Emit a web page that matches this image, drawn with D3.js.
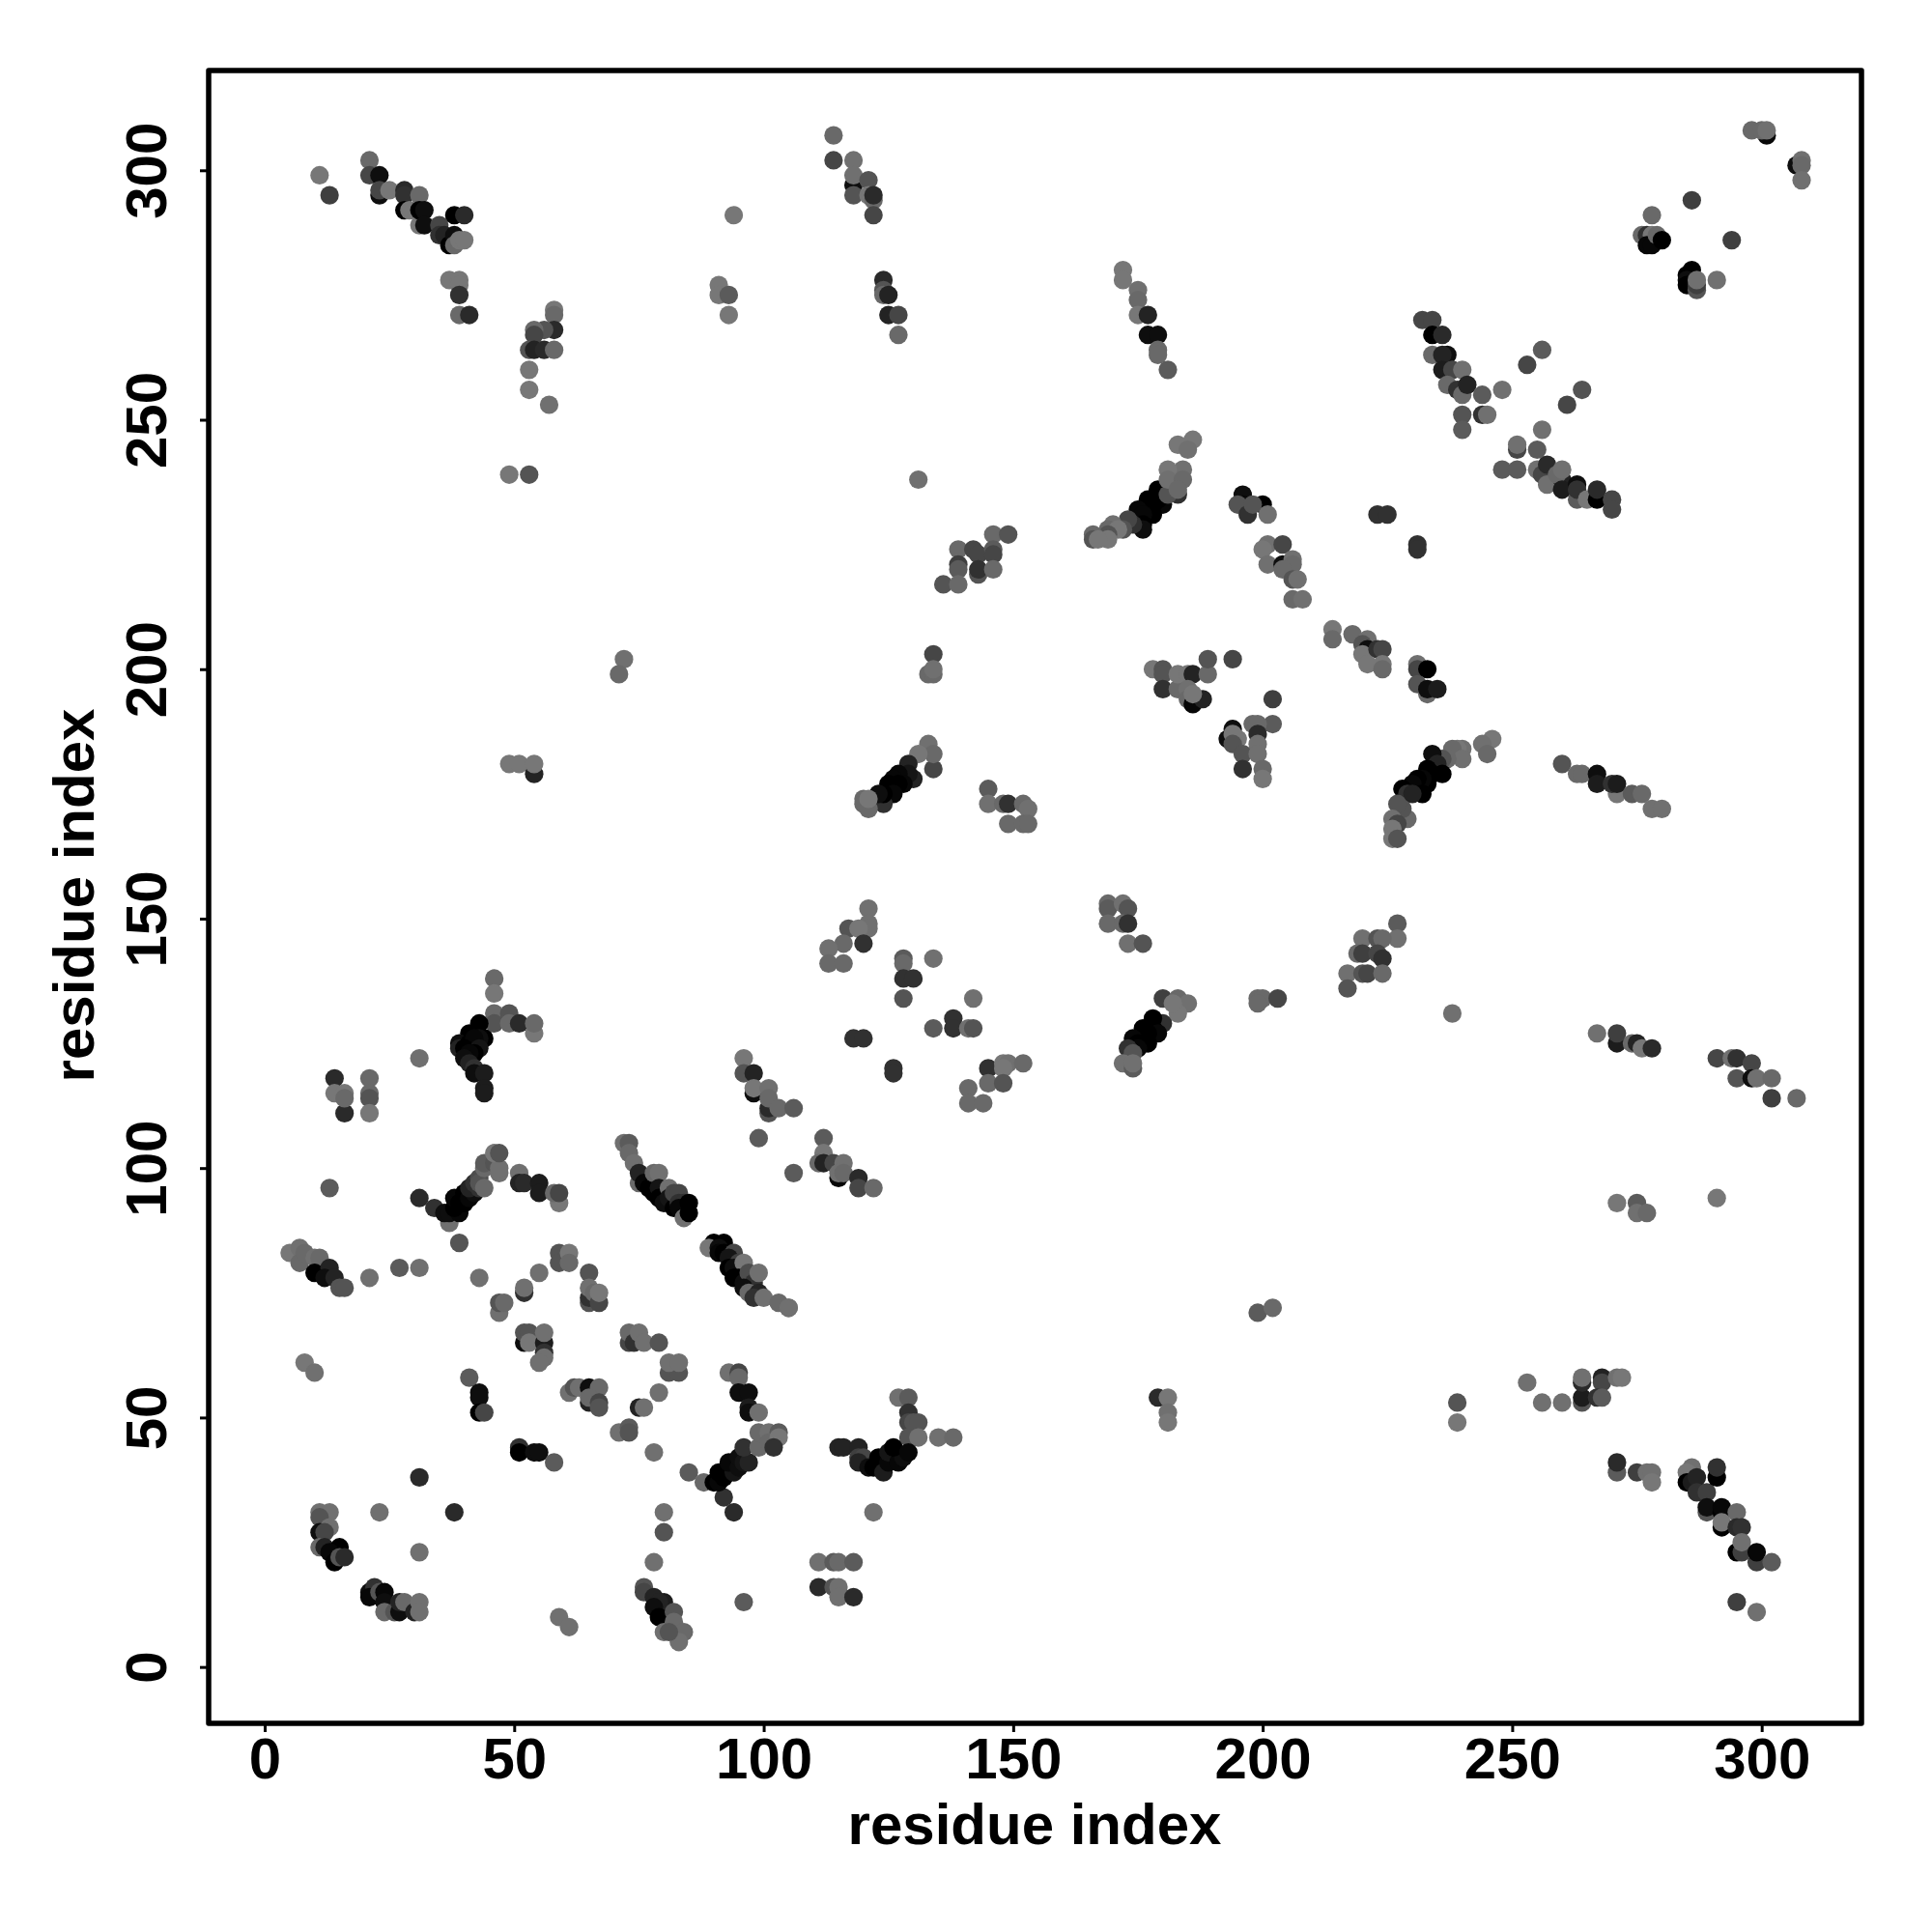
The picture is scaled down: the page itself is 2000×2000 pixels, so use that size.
<!DOCTYPE html>
<html><head><meta charset="utf-8">
<script src="https://cdnjs.cloudflare.com/ajax/libs/d3/7.8.5/d3.min.js"></script>
<style>html,body{margin:0;padding:0;background:#fff}svg{display:block}</style>
</head><body><div id="chart"></div>
<script>
// each entry: [residue i, residue j, contact level]; level 0 = weakest (grey), 17 = strongest (black)
const topLeft = [[11,299,0],[13,295,8],[21,302,2],[21,299,7],[23,299,15],[23,295,15],[23,296,7],[25,296,0],[28,296,11],[28,295,10],[28,292,17],[29,292,0],[31,295,2],[31,289,0],[31,292,17],[32,292,15],[32,289,15],[35,289,7],[35,287,10],[36,287,12],[37,285,17],[38,287,15],[38,291,17],[40,291,11],[38,285,2],[39,286,0],[40,286,0],[37,278,0],[39,278,0],[39,277,0],[39,275,10],[39,271,2],[41,271,11]];
const topStrandA = [[58,272,0],[58,271,2],[58,268,11],[56,268,5],[54,268,2],[54,267,7],[53,264,5],[54,264,12],[56,264,11],[58,264,2],[53,260,0],[53,256,0],[57,253,1],[49,239,0],[53,239,5],[94,291,0],[91,277,0],[91,275,0],[93,275,4],[93,271,0],[72,202,1],[71,199,2],[49,181,0],[51,181,0],[54,179,12],[54,181,0]];
const midLeft = [[46,138,2],[46,135,0],[46,131,2],[46,129,5],[49,131,5],[49,129,2],[51,129,11],[54,127,0],[54,129,2],[43,129,17],[44,126,17],[41,127,17],[43,126,15],[39,125,15],[39,124,12],[41,125,17],[42,126,16],[40,124,17],[43,124,14],[42,123,17],[41,123,16],[40,122,15],[41,121,12],[42,120,10],[42,119,15],[44,119,13],[44,116,13],[44,115,13],[31,122,1],[14,118,11],[14,115,0],[16,111,11],[16,115,0],[16,114,2],[21,118,2],[21,115,2],[21,114,5],[21,111,0]];
const midStrandB = [[96,122,0],[96,119,5],[98,115,15],[98,119,12],[98,116,0],[101,116,1],[101,111,5],[101,112,11],[101,114,2],[103,112,2],[106,112,4],[99,106,4],[134,203,7],[133,199,2],[134,199,2],[134,200,1],[133,185,1],[134,180,7],[134,183,2],[131,183,0],[129,181,12],[130,178,12],[129,179,14],[127,179,16],[128,177,16],[126,178,16],[127,177,17],[125,177,17],[125,175,17],[126,175,16],[124,173,10],[124,175,17],[123,175,15],[120,174,2],[120,173,2],[121,172,2],[121,174,0]];
const midCluster = [[145,176,4],[145,173,1],[148,173,2],[149,173,10],[149,169,2],[152,173,2],[153,172,1],[152,169,2],[153,169,2],[178,200,0],[180,200,5],[180,199,5],[180,196,10],[183,196,2],[183,199,0],[185,199,0],[186,199,12],[189,199,2],[189,202,5],[194,202,7],[185,196,1],[185,194,2],[186,193,16],[188,194,12],[186,195,0],[202,194,8],[202,189,4],[198,189,2],[199,189,2],[194,188,15],[193,186,15],[199,187,11],[195,186,0],[194,187,0],[194,185,5],[199,185,1],[196,183,5],[199,183,1],[196,180,10],[200,180,2],[200,178,0]];
const lowerMid = [[121,152,1],[121,149,1],[117,148,5],[121,148,1],[119,148,0],[120,145,10],[116,145,2],[113,144,1],[113,141,2],[116,141,2],[128,142,4],[128,141,2],[128,138,10],[130,138,10],[128,134,5],[134,142,1],[142,134,1],[138,130,10],[138,128,10],[134,128,4],[141,128,1],[142,128,5],[118,126,10],[120,126,10],[126,120,10],[126,119,10],[145,120,10],[148,121,0],[149,121,1],[152,121,2],[148,120,0],[145,117,2],[148,117,5],[141,116,2],[141,113,2],[144,113,2],[112,106,4],[112,103,0],[111,101,2],[112,101,12],[114,101,7],[116,101,1],[115,98,16],[115,99,1],[116,99,2],[119,98,11],[119,96,7],[122,96,2],[106,99,4]];
const centreArc = [[180,134,8],[183,134,2],[185,133,1],[183,131,0],[182,133,0],[180,129,10],[178,130,17],[178,128,17],[179,127,16],[176,128,17],[177,127,17],[177,125,17],[176,126,17],[174,126,16],[175,125,17],[175,124,16],[173,124,10],[174,123,5],[172,121,1],[174,120,4],[174,121,1],[199,134,2],[200,134,2],[199,133,2],[203,134,7],[169,153,2],[169,152,4],[169,149,2],[172,153,1],[173,152,5],[172,149,2],[173,149,10],[173,145,1],[176,145,5]];
const topMid = [[114,307,2],[114,302,7],[118,302,1],[118,297,15],[118,299,1],[118,295,5],[121,298,5],[121,295,0],[122,294,2],[122,295,11],[122,291,7],[124,278,11],[124,276,5],[124,275,2],[125,275,12],[125,271,12],[127,271,7],[127,267,2],[131,238,1],[172,280,0],[172,278,0],[175,276,1],[175,274,2],[175,271,0],[177,271,12],[177,267,15],[179,267,15],[179,264,2],[179,263,2],[181,260,4]];
const upperArc = [[186,246,0],[183,245,0],[185,244,1],[184,240,1],[181,240,0],[180,236,10],[179,236,17],[183,235,10],[180,233,16],[179,234,17],[178,233,17],[177,234,17],[178,231,17],[177,232,17],[175,232,16],[176,231,16],[176,229,17],[176,228,15],[174,229,10],[173,230,7],[172,228,5],[170,229,1],[169,228,2],[171,228,0],[169,227,5],[166,227,2],[166,226,5],[169,226,0],[167,226,0],[181,235,5],[181,238,1],[184,238,2],[183,236,2]];
const upperCluster = [[146,227,2],[149,227,5],[139,224,2],[142,224,7],[143,223,7],[146,224,4],[146,223,7],[139,221,8],[139,220,4],[143,219,5],[143,220,10],[146,220,2],[136,217,5],[139,217,2],[196,235,15],[196,233,16],[195,233,5],[197,231,10],[200,233,17],[198,233,5],[201,231,1],[201,225,1],[204,225,7],[200,224,0],[201,221,1],[204,221,15],[206,222,1],[206,221,2],[204,220,2],[206,218,5],[207,218,1],[206,214,2],[208,214,1]];
const upperRight = [[214,208,0],[214,206,2],[218,207,2],[221,206,1],[220,205,5],[221,204,15],[220,203,0],[223,204,10],[224,204,7],[221,201,0],[224,201,0],[224,200,2],[231,201,1],[231,200,7],[233,200,17],[231,197,5],[233,195,2],[233,196,15],[235,196,13],[298,308,2],[301,307,16],[300,308,2],[301,308,1],[307,301,15],[308,302,1],[308,301,2],[308,298,1],[286,294,8],[278,291,2],[294,286,8],[276,287,2],[277,287,10],[278,287,0],[277,285,16],[278,285,16],[279,287,2],[280,286,17],[286,280,17],[285,279,17],[285,278,15],[285,277,17],[287,276,5],[287,277,8],[287,278,1],[291,278,1]];
const crossArms = [[232,270,7],[234,270,7],[234,267,17],[236,267,11],[234,263,2],[237,263,15],[236,263,12],[236,260,13],[238,260,7],[240,260,1],[237,257,2],[239,256,10],[240,255,2],[241,257,12],[244,255,4],[248,256,1],[240,251,5],[240,248,4],[244,251,10],[245,251,1],[253,261,7],[256,264,4],[264,256,5],[261,253,7],[256,248,1],[251,244,7],[251,245,1],[255,244,4],[248,240,4],[251,240,4],[255,240,1],[256,239,7],[257,241,11],[257,237,1],[260,238,12],[259,239,2],[260,240,1],[260,236,13],[263,234,4],[263,237,15],[263,236,10],[265,234,0],[267,234,17],[267,236,11],[270,234,7],[270,232,7],[223,231,10],[225,231,10],[231,225,10],[231,224,10]];
const rightArc = [[246,186,0],[244,185,1],[245,183,2],[240,184,1],[239,184,0],[238,184,2],[240,182,1],[237,182,2],[236,182,5],[234,183,15],[235,181,12],[236,179,17],[234,179,17],[233,180,17],[233,177,17],[232,178,16],[231,178,17],[230,177,16],[232,175,17],[228,176,17],[229,175,10],[230,175,12],[229,170,2],[228,172,5],[227,173,5],[226,170,1],[227,169,7],[226,168,0],[226,166,0],[227,166,5]];
const rightStrand = [[260,181,5],[263,179,2],[264,179,2],[267,179,15],[267,177,13],[271,175,0],[270,177,10],[271,177,13],[274,175,4],[276,175,2],[278,172,1],[280,172,1],[227,149,4],[227,146,1],[220,146,1],[223,146,5],[224,146,2],[219,143,2],[220,143,8],[223,143,7],[224,142,10],[217,139,1],[220,139,5],[221,139,7],[224,139,2],[217,136,5],[238,131,1],[267,127,1],[271,125,13],[271,127,8],[274,125,2],[275,125,12],[276,124,0],[278,124,11],[291,122,7],[294,122,1],[295,122,10],[298,121,7],[295,118,5],[298,118,15],[299,118,1],[302,118,2],[302,114,8],[307,114,2]];
const lowerRight = [[271,93,0],[275,93,4],[275,91,1],[277,91,2],[291,94,0],[239,53,5],[239,49,0],[253,57,1],[256,53,1],[260,53,1],[264,53,5],[264,54,13],[264,57,11],[264,58,1],[268,58,12],[268,57,7],[267,54,10],[268,54,4],[271,58,1],[272,58,0],[271,39,4],[271,41,11],[275,39,8],[277,39,1],[278,39,1],[278,37,0],[286,40,1],[285,39,0],[285,37,17],[286,37,13],[287,38,12],[287,35,10],[289,35,8],[291,38,17],[291,40,10],[289,31,5],[289,32,15],[292,31,17],[292,32,16],[295,31,2],[292,28,17],[292,29,0],[295,28,11],[296,28,10],[295,23,17],[296,23,8],[296,25,1],[299,21,8],[299,23,16],[302,21,4],[295,13,8],[299,11,1]];
const helixA = [[13,96,4],[31,94,11],[34,92,10],[37,89,1],[36,91,15],[37,91,15],[39,91,16],[38,92,17],[38,94,16],[39,93,17],[40,93,17],[40,95,17],[41,94,16],[42,95,15],[41,96,12],[42,97,10],[43,96,10],[43,98,6],[43,97,5],[44,96,2],[44,100,2],[44,101,4],[46,101,5],[47,99,1],[47,100,1],[46,103,0],[47,103,5],[51,99,1],[51,97,12],[52,97,11],[55,97,13],[55,95,13],[59,93,0],[58,95,2],[59,95,7],[72,105,1],[73,105,4],[73,103,2],[74,101,1],[75,97,2],[75,99,12],[76,97,16],[77,96,17],[78,95,17],[78,99,2],[79,99,1],[79,96,14],[79,94,17],[80,93,15],[81,96,1],[81,94,14],[82,92,17],[82,95,7],[83,95,7],[83,93,10],[84,93,10],[83,92,16],[84,90,1],[85,91,17],[85,93,17],[39,85,5]];
const helixB = [[5,83,0],[7,84,1],[7,81,2],[8,83,2],[10,82,1],[11,82,2],[10,79,17],[13,80,12],[12,78,15],[14,78,12],[15,76,5],[16,76,5],[21,78,1],[27,80,4],[31,80,1],[43,78,1],[47,71,1],[47,73,5],[48,73,2],[52,75,10],[52,76,1],[55,79,1],[59,83,5],[59,81,5],[61,83,0],[61,81,2],[65,79,5],[65,73,5],[65,74,10],[65,76,1],[66,75,2],[67,73,7],[67,75,0]];
const lowerCentre = [[52,65,15],[52,67,5],[53,67,5],[53,65,0],[56,65,13],[56,67,1],[56,63,10],[56,62,1],[55,61,1],[73,65,7],[73,67,2],[74,65,10],[75,67,1],[76,65,1],[79,65,5],[81,59,5],[83,59,5],[81,61,1],[83,61,1],[8,61,0],[10,59,1],[41,58,4],[43,55,15],[43,54,15],[43,51,17],[44,51,7],[61,55,1],[62,56,5],[63,56,1],[65,56,15],[67,56,2],[65,53,12],[65,54,2],[67,53,7],[67,52,5],[79,55,1],[75,52,12],[76,52,1],[71,47,1],[73,48,4],[73,47,5],[78,43,1]];
const lowerHelix = [[93,59,1],[95,59,7],[95,58,2],[95,55,15],[97,55,15],[97,52,13],[97,51,15],[99,51,1],[51,44,10],[51,43,17],[54,43,15],[55,43,15],[58,41,4],[85,39,4],[31,38,11],[38,31,11],[23,31,1],[88,37,2],[90,37,17],[92,34,10],[94,31,11],[91,37,16],[92,38,17],[91,39,17],[93,39,17],[94,39,14],[94,41,17],[93,41,16],[95,40,15],[95,42,15],[96,41,14],[97,41,12],[96,44,10],[99,44,2],[99,47,2],[101,47,1],[103,47,4],[101,45,2],[103,46,0],[102,44,10],[80,31,1],[80,27,5],[78,21,1],[96,13,4]];
const bottomLeft = [[76,16,5],[76,15,7],[78,14,12],[80,13,13],[79,13,12],[78,12,15],[79,10,17],[82,11,5],[80,7,1],[82,9,2],[84,7,2],[83,5,1],[81,7,5],[59,10,1],[61,8,1],[11,31,1],[13,31,1],[11,30,5],[13,28,1],[11,27,15],[12,27,7],[11,24,2],[12,24,12],[15,24,17],[13,23,16],[14,21,17],[15,22,5],[16,22,11],[31,23,1],[21,15,15],[22,16,10],[21,14,16],[23,15,5],[24,15,16],[24,13,15],[24,11,2],[26,11,5],[27,11,15],[27,13,12],[28,13,2],[30,11,12],[31,13,1],[31,11,1]];
const bottomRight = [[199,71,4],[202,72,2],[179,54,11],[181,54,0],[181,51,1],[181,49,0],[122,31,1],[127,54,1],[129,54,4],[129,51,10],[129,49,7],[130,49,5],[131,49,5],[129,46,5],[131,46,1],[135,46,1],[138,46,2],[115,44,12],[116,44,12],[119,44,12],[119,42,8],[120,42,7],[119,41,12],[121,40,15],[123,42,17],[122,40,17],[124,41,17],[124,39,13],[125,41,16],[125,43,14],[127,41,16],[128,42,15],[126,44,17],[129,43,16],[111,21,1],[114,21,4],[115,21,2],[118,21,4],[111,16,11],[114,16,5],[115,16,1],[115,14,1],[118,14,11]];
const helixC = [[90,85,17],[92,85,17],[89,84,0],[91,84,15],[91,83,16],[92,83,17],[94,83,7],[93,82,14],[95,81,8],[93,80,17],[95,80,14],[94,80,15],[94,78,17],[96,81,0],[95,78,17],[96,77,15],[97,79,6],[98,77,10],[99,79,1],[96,76,15],[97,75,2],[99,75,12],[98,74,10],[100,74,1],[103,73,2],[105,72,2],[105,72,1]];
const axisTicks = [0,50,100,150,200,250,300];
const xTitle = "residue index", yTitle = "residue index";

const contacts = [].concat(topLeft,topStrandA,midLeft,midStrandB,midCluster,lowerMid,centreArc,topMid,upperArc,upperCluster,upperRight,crossArms,rightArc,rightStrand,lowerRight,helixA,helixB,lowerCentre,lowerHelix,bottomLeft,bottomRight,helixC);

const L=216, R=1927, T=73, B=1784;
const x = d3.scaleLinear().domain([-11.23,320]).range([L,R]);
const y = d3.scaleLinear().domain([-11.3,320]).range([B,T]);
const grey = d3.scaleLinear().domain([0,17]).range(["#777777","#000000"]);
const svg = d3.select("#chart").append("svg").attr("width",2000).attr("height",2000).style("background","#fff");
const font = "'Liberation Sans',Arial,sans-serif";

svg.append("g").selectAll("circle").data(contacts).join("circle")
  .attr("cx",d=>x(d[0])).attr("cy",d=>y(d[1])).attr("r",9.6).attr("fill",d=>grey(d[2]));

svg.append("rect").attr("x",L).attr("y",T).attr("width",R-L).attr("height",B-T)
  .attr("fill","none").attr("stroke","#000").attr("stroke-width",5.5).attr("stroke-linejoin","round");

const gx = svg.append("g").attr("transform",`translate(0,${B})`)
  .call(d3.axisBottom(x).tickValues(axisTicks).tickSize(9).tickSizeOuter(0));
const gy = svg.append("g").attr("transform",`translate(${L},0)`)
  .call(d3.axisLeft(y).tickValues(axisTicks).tickSize(9).tickSizeOuter(0));
[gx,gy].forEach(g=>{
  g.select(".domain").remove();
  g.selectAll("line").attr("stroke","#000").attr("stroke-width",3);
  g.selectAll("text").attr("font-family",font).attr("font-weight","700").attr("font-size",60).attr("fill","#000");
});
gx.selectAll("text").attr("dy",null).attr("y",null).attr("text-anchor","middle")
  .attr("transform","translate(0,57)");
gy.selectAll("text").attr("x",null).attr("dy",null).attr("text-anchor","middle")
  .attr("transform",`translate(${172-L},0) rotate(-90)`);

svg.append("text").attr("x",1071).attr("y",1909).attr("text-anchor","middle")
  .attr("font-family",font).attr("font-weight","700").attr("font-size",60).text(xTitle);
svg.append("text").attr("transform","translate(97,927) rotate(-90)").attr("text-anchor","middle")
  .attr("font-family",font).attr("font-weight","700").attr("font-size",60).text(yTitle);
</script></body></html>
